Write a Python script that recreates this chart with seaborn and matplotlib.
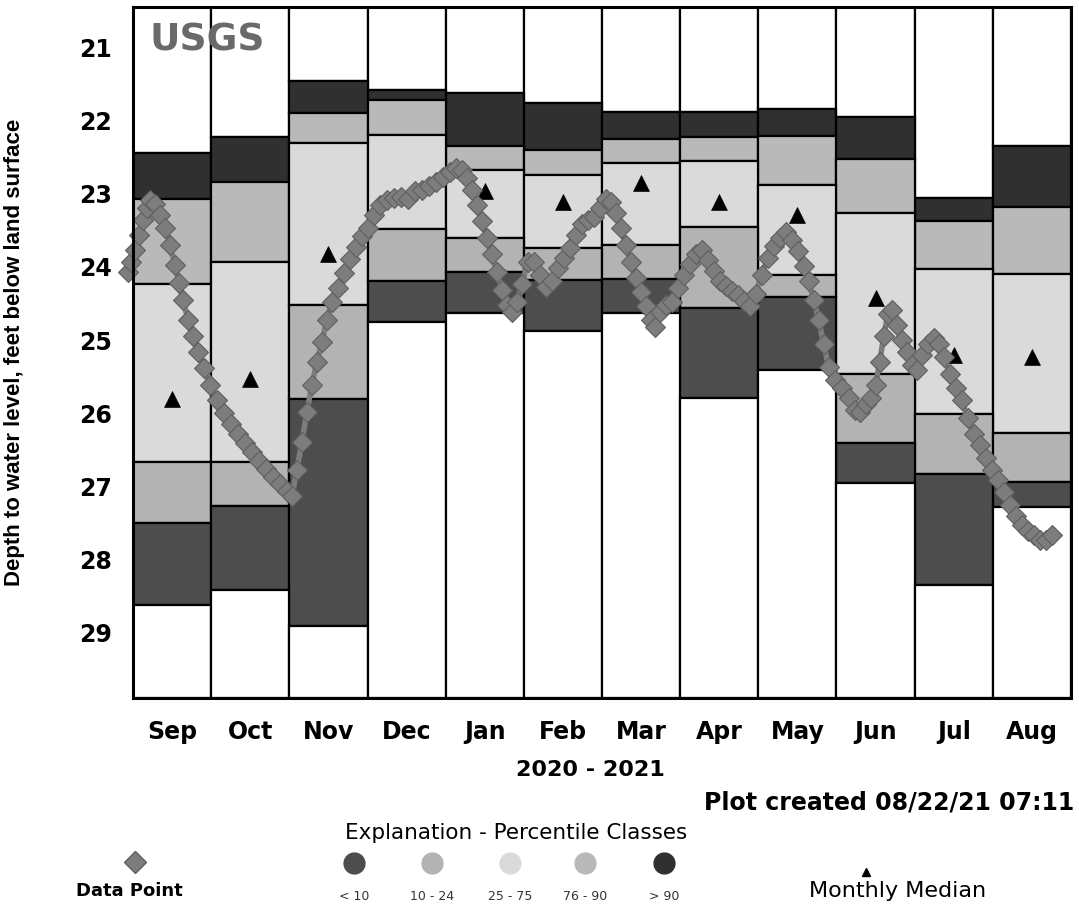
import numpy as np
import pandas as pd
import matplotlib
matplotlib.use("Agg")
import matplotlib.pyplot as plt
from matplotlib.lines import Line2D
import seaborn as sns

# ---------------- data ----------------
months = ["Sep", "Oct", "Nov", "Dec", "Jan", "Feb", "Mar", "Apr", "May", "Jun", "Jul", "Aug"]
# percentile class boundaries (depth, ft below land surface)
p_max = [22.44, 22.22, 21.46, 21.59, 21.62, 21.76, 21.88, 21.88, 21.85, 21.95, 23.06, 22.35]
p90 = [23.07, 22.84, 21.90, 21.72, 22.35, 22.41, 22.25, 22.22, 22.21, 22.53, 23.37, 23.18]
p75 = [24.23, 23.94, 22.31, 22.20, 22.67, 22.75, 22.58, 22.56, 22.88, 23.27, 24.03, 24.10]
p25 = [26.66, 26.66, 24.52, 23.48, 23.60, 23.74, 23.70, 23.46, 24.11, 25.46, 26.01, 26.27]
p10 = [27.50, 27.27, 25.80, 24.20, 24.07, 24.18, 24.17, 24.56, 24.41, 26.40, 26.83, 26.94]
p_min = [28.62, 28.41, 28.90, 24.75, 24.63, 24.87, 24.63, 25.79, 25.41, 26.95, 28.34, 27.28]
monthly_median = [25.80, 25.53, 23.83, np.nan, 22.97, 23.12, 22.85, 23.11, 23.29, 24.42, 25.20, 25.23]

# observations: time in months since 1 Sep 2020, depth to water
obs_month = [-0.064, -0.026, 0.026, 0.077, 0.128, 0.179, 0.217, 0.281, 0.345, 0.409,
             0.473, 0.537, 0.588, 0.639, 0.703, 0.767, 0.831, 0.908, 0.985, 1.074,
             1.164, 1.253, 1.343, 1.432, 1.522, 1.611, 1.701, 1.790, 1.880, 1.969,
             2.033, 2.097, 2.161, 2.225, 2.289, 2.353, 2.417, 2.481, 2.545, 2.621,
             2.698, 2.775, 2.852, 2.928, 3.005, 3.082, 3.159, 3.248, 3.338, 3.427,
             3.517, 3.606, 3.696, 3.785, 3.875, 3.964, 4.054, 4.130, 4.207, 4.271,
             4.335, 4.399, 4.463, 4.527, 4.591, 4.655, 4.719, 4.783, 4.847, 4.910,
             4.974, 5.051, 5.128, 5.205, 5.281, 5.358, 5.435, 5.512, 5.588, 5.665,
             5.742, 5.818, 5.895, 5.972, 6.049, 6.113, 6.176, 6.240, 6.304, 6.368,
             6.432, 6.496, 6.560, 6.624, 6.675, 6.739, 6.816, 6.893, 6.969, 7.046,
             7.123, 7.199, 7.276, 7.353, 7.430, 7.506, 7.583, 7.660, 7.737, 7.813,
             7.890, 7.967, 8.043, 8.120, 8.197, 8.274, 8.350, 8.427, 8.504, 8.581,
             8.645, 8.708, 8.772, 8.836, 8.900, 8.977, 9.066, 9.156, 9.233, 9.297,
             9.373, 9.437, 9.501, 9.552, 9.604, 9.655, 9.706, 9.770, 9.834, 9.898,
             9.962, 10.026, 10.090, 10.166, 10.243, 10.307, 10.371, 10.448, 10.524, 10.601,
             10.678, 10.754, 10.831, 10.908, 10.985, 11.061, 11.138, 11.215, 11.292, 11.368,
             11.445, 11.522, 11.598, 11.675, 11.752]
obs_depth = [24.07, 23.93, 23.77, 23.56, 23.36, 23.19, 23.08, 23.14, 23.29, 23.47,
             23.70, 23.97, 24.22, 24.45, 24.72, 24.95, 25.16, 25.38, 25.61, 25.82,
             25.99, 26.14, 26.28, 26.40, 26.53, 26.65, 26.76, 26.87, 26.96, 27.06,
             27.13, 26.77, 26.39, 25.98, 25.61, 25.30, 25.02, 24.72, 24.48, 24.29,
             24.08, 23.89, 23.73, 23.58, 23.47, 23.29, 23.15, 23.08, 23.06, 23.04,
             23.07, 22.97, 22.95, 22.89, 22.84, 22.77, 22.70, 22.65, 22.67, 22.78,
             22.95, 23.15, 23.38, 23.60, 23.83, 24.07, 24.31, 24.52, 24.61, 24.48,
             24.24, 23.93, 23.93, 24.11, 24.27, 24.20, 24.01, 23.88, 23.74, 23.56,
             23.41, 23.36, 23.32, 23.19, 23.07, 23.12, 23.26, 23.47, 23.70, 23.93,
             24.15, 24.34, 24.53, 24.72, 24.82, 24.61, 24.52, 24.48, 24.29, 24.11,
             23.96, 23.83, 23.77, 23.90, 24.05, 24.19, 24.26, 24.33, 24.39, 24.46,
             24.53, 24.37, 24.11, 23.88, 23.71, 23.60, 23.53, 23.63, 23.79, 23.99,
             24.20, 24.45, 24.72, 25.06, 25.37, 25.54, 25.65, 25.79, 25.95, 25.98,
             25.88, 25.79, 25.61, 25.30, 24.95, 24.65, 24.59, 24.79, 25.00, 25.16,
             25.34, 25.41, 25.21, 25.06, 24.97, 25.06, 25.23, 25.46, 25.65, 25.82,
             26.06, 26.28, 26.44, 26.61, 26.77, 26.91, 27.07, 27.26, 27.41, 27.52,
             27.61, 27.67, 27.73, 27.73, 27.67]

y_ticks = [21, 22, 23, 24, 25, 26, 27, 28, 29]
y_top, y_bottom = 20.45, 29.89
class_labels = ["< 10", "10 - 24", "25 - 75", "76 - 90", "> 90"]

# ---------------- style ----------------
sns.set_theme(style="white")
plt.rcParams["font.family"] = ["DejaVu Sans"]
plt.rcParams["text.color"] = "black"
plt.rcParams["axes.labelcolor"] = "black"
plt.rcParams["xtick.color"] = "black"
plt.rcParams["ytick.color"] = "black"
LIB = ["Liberation Sans", "DejaVu Sans"]

c_lt10 = "#4d4d4d"
c_10_24 = "#b3b3b3"
c_25_75 = "#dadada"
c_76_90 = "#b9b9b9"
c_gt90 = "#303030"
c_point = "#7d7d7d"
c_point_edge = "#5f5f5f"

W, H = 1079, 907
fig = plt.figure(figsize=(W / 100, H / 100), dpi=100)
ax = fig.add_axes([133 / W, 1 - 698 / H, (1071 - 133) / W, (698 - 7) / H])

df = pd.DataFrame({"month": months, "pmax": p_max, "p90": p90, "p75": p75,
                   "p25": p25, "p10": p10, "pmin": p_min, "median": monthly_median})
df["x"] = np.arange(len(months)) + 0.5

segments = [
    (np.full(len(df), y_top), df["pmax"], "white"),
    (df["pmax"], df["p90"], c_gt90),
    (df["p90"], df["p75"], c_76_90),
    (df["p75"], df["p25"], c_25_75),
    (df["p25"], df["p10"], c_10_24),
    (df["p10"], df["pmin"], c_lt10),
    (df["pmin"], np.full(len(df), y_bottom), "white"),
]
for lo, hi, col in segments:
    lo = np.asarray(lo, dtype=float)
    hi = np.asarray(hi, dtype=float)
    ax.bar(df["x"], hi - lo, bottom=lo, width=1.0, color=col,
           edgecolor="black", linewidth=1.6, zorder=1)

sns.scatterplot(data=df, x="x", y="median", marker="^", s=130, color="black",
                edgecolor="black", linewidth=0.5, zorder=3, ax=ax, legend=False)

obs = pd.DataFrame({"t": obs_month, "depth": obs_depth})
sns.lineplot(data=obs, x="t", y="depth", sort=False, estimator=None,
             color=c_point, linewidth=4, marker="D", markersize=10,
             markerfacecolor=c_point, markeredgecolor=c_point_edge,
             markeredgewidth=0.8, zorder=4, ax=ax, clip_on=False)

ax.set_xlim(0, 12)
ax.set_ylim(y_bottom, y_top)
ax.set_xticks(df["x"])
ax.set_xticklabels(months, fontsize=17, fontweight="bold")
ax.set_yticks(y_ticks)
ax.set_yticklabels([str(v) for v in y_ticks], fontsize=17, fontweight="bold")
ax.tick_params(axis="both", length=0)
ax.tick_params(axis="x", pad=16)
ax.tick_params(axis="y", pad=15)
ax.set_xlabel("")
ax.set_ylabel("Depth to water level, feet below land surface", fontsize=16,
              fontweight="bold", family=LIB)
ax.yaxis.set_label_coords(-0.115, 0.5)
for s in ax.spines.values():
    s.set_color("black")
    s.set_linewidth(2.2)
    s.set_zorder(5)

ax.text(0.018, 0.952, "USGS", transform=ax.transAxes, fontsize=27,
        fontweight="bold", color="#6a6a6a", va="center", ha="left", zorder=6)

# ---------------- footer texts ----------------
def fx(px):
    return px / W

def fy(py):
    return 1 - py / H

fig.text(fx(590), fy(770), "2020 - 2021", fontsize=16, fontweight="bold",
         ha="center", va="center")
fig.text(fx(704), fy(802), "Plot created 08/22/21 07:11", fontsize=17,
         fontweight="bold", ha="left", va="center")
fig.text(fx(516), fy(833), "Explanation - Percentile Classes", fontsize=15.5,
         ha="center", va="center")

fig.add_artist(Line2D([fx(135)], [fy(862)], transform=fig.transFigure,
                      marker="D", markersize=11, color=c_point,
                      markeredgecolor=c_point_edge, linestyle="none"))
fig.text(fx(129), fy(891), "Data Point", fontsize=13, fontweight="bold",
         ha="center", va="center")

circle_cols = [c_lt10, c_10_24, c_25_75, c_76_90, c_gt90]
circle_x = [354, 432, 510, 585, 664]
for cx, col, lab in zip(circle_x, circle_cols, class_labels):
    fig.add_artist(Line2D([fx(cx)], [fy(863)], transform=fig.transFigure,
                          marker="o", markersize=15, color=col,
                          markeredgecolor=col, linestyle="none"))
    fig.text(fx(cx), fy(897), lab, fontsize=9, ha="center", va="center",
             color="#333333")

fig.add_artist(Line2D([fx(866)], [fy(872)], transform=fig.transFigure,
                      marker="^", markersize=6, color="black", linestyle="none"))
fig.text(fx(898), fy(891), "Monthly Median", fontsize=16,
         ha="center", va="center")

fig.savefig("out.png", dpi=100, facecolor="white")
